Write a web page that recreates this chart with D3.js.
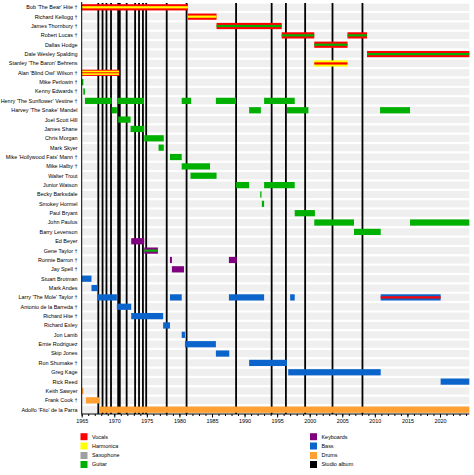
<!DOCTYPE html>
<html><head><meta charset="utf-8">
<script src="https://cdn.jsdelivr.net/npm/d3@7"></script>
<style>
html,body{margin:0;padding:0;background:#fff;}
svg{display:block;font-family:"Liberation Sans Narrow","Arial Narrow","Liberation Sans",Arial,sans-serif;}
</style></head>
<body><svg id="chart" width="474" height="475"></svg>
<script>
const members = [
"Bob 'The Bear' Hite †","Richard Kellogg †","James Thornbury †","Robert Lucas †","Dallas Hodge",
"Dale Wesley Spalding","Stanley 'The Baron' Behrens","Alan 'Blind Owl' Wilson †","Mike Perlowin †",
"Kenny Edwards †","Henry 'The Sunflower' Vestine †","Harvey 'The Snake' Mandel","Joel Scott Hill",
"James Shane","Chris Morgan","Mark Skyer","Mike 'Hollywood Fats' Mann †","Mike Halby †","Walter Trout",
"Junior Watson","Becky Barksdale","Smokey Hormel","Paul Bryant","John Paulus","Barry Levenson","Ed Beyer",
"Gene Taylor †","Ronnie Barron †","Jay Spell †","Stuart Brotman","Mark Andes","Larry 'The Mole' Taylor †",
"Antonio de la Barreda †","Richard Hite †","Richard Exley","Jon Lamb","Ernie Rodriguez","Skip Jones",
"Ron Shumake †","Greg Kage","Rick Reed","Keith Sawyer","Frank Cook †","Adolfo 'Fito' de la Parra"];

const instruments = ["Vocals","Harmonica","Saxophone","Guitar","Keyboards","Bass","Drums","Studio album"];
const instrumentColors = ["#ff0000","#ffff00","#a0a0a0","#00b000","#800080","#0a64cc","#ffa030","#000000"];

// [member, start, end, main instrument, stripe instrument or null, thin centre-line instrument or null]
const stints = [
["Bob 'The Bear' Hite †",1965.0,1981.3,"Vocals","Harmonica",null],
["Richard Kellogg †",1981.3,1985.7,"Vocals","Harmonica",null],
["James Thornbury †",1985.7,1995.7,"Vocals","Guitar",null],
["Robert Lucas †",1995.7,2000.7,"Vocals","Guitar",null],
["Robert Lucas †",2005.8,2008.8,"Vocals","Guitar",null],
["Dallas Hodge",2000.7,2005.8,"Vocals","Guitar",null],
["Dale Wesley Spalding",2008.8,2024.5,"Vocals","Guitar",null],
["Stanley 'The Baron' Behrens",2000.7,2005.8,"Harmonica","Vocals",null],
["Alan 'Blind Owl' Wilson †",1965.0,1970.75,"Vocals","Harmonica","Vocals"],
["Mike Perlowin †",1965.0,1965.25,"Guitar",null,null],
["Kenny Edwards †",1965.25,1965.5,"Guitar",null,null],
["Henry 'The Sunflower' Vestine †",1965.5,1969.6,"Guitar",null,null],
["Henry 'The Sunflower' Vestine †",1970.45,1974.55,"Guitar",null,null],
["Henry 'The Sunflower' Vestine †",1980.35,1981.8,"Guitar",null,null],
["Henry 'The Sunflower' Vestine †",1985.6,1988.7,"Guitar",null,null],
["Henry 'The Sunflower' Vestine †",1993.0,1997.7,"Guitar",null,null],
["Harvey 'The Snake' Mandel",1969.6,1970.4,"Guitar",null,null],
["Harvey 'The Snake' Mandel",1990.7,1992.5,"Guitar",null,null],
["Harvey 'The Snake' Mandel",1996.5,1999.8,"Guitar",null,null],
["Harvey 'The Snake' Mandel",2010.8,2015.4,"Guitar",null,null],
["Joel Scott Hill",1970.6,1972.5,"Guitar",null,null],
["James Shane",1972.5,1974.6,"Guitar",null,null],
["Chris Morgan",1974.6,1977.6,"Guitar",null,null],
["Mark Skyer",1976.8,1977.6,"Guitar",null,null],
["Mike 'Hollywood Fats' Mann †",1978.55,1980.35,"Guitar",null,null],
["Mike Halby †",1980.35,1984.7,"Guitar",null,null],
["Walter Trout",1981.7,1985.7,"Guitar",null,null],
["Junior Watson",1988.7,1990.7,"Guitar",null,null],
["Junior Watson",1993.0,1997.7,"Guitar",null,null],
["Becky Barksdale",1992.4,1992.6,"Guitar",null,null],
["Smokey Hormel",1992.65,1993.0,"Guitar",null,null],
["Paul Bryant",1997.7,2000.8,"Guitar",null,null],
["John Paulus",2000.7,2006.8,"Guitar",null,null],
["John Paulus",2015.4,2024.5,"Guitar",null,null],
["Barry Levenson",2006.8,2010.9,"Guitar",null,null],
["Ed Beyer",1972.6,1974.6,"Keyboards",null,null],
["Gene Taylor †",1974.6,1976.7,"Keyboards","Guitar",null],
["Ronnie Barron †",1978.55,1978.85,"Keyboards",null,null],
["Ronnie Barron †",1987.6,1988.8,"Keyboards",null,null],
["Jay Spell †",1978.85,1980.7,"Keyboards",null,null],
["Stuart Brotman",1965.0,1966.5,"Bass",null,null],
["Mark Andes",1966.5,1967.45,"Bass",null,null],
["Larry 'The Mole' Taylor †",1967.45,1970.4,"Bass",null,null],
["Larry 'The Mole' Taylor †",1978.55,1980.35,"Bass",null,null],
["Larry 'The Mole' Taylor †",1987.6,1993.0,"Bass",null,null],
["Larry 'The Mole' Taylor †",1997.0,1997.7,"Bass",null,null],
["Larry 'The Mole' Taylor †",2010.9,2020.1,"Bass","Vocals",null],
["Antonio de la Barreda †",1970.4,1972.6,"Bass",null,null],
["Richard Hite †",1972.6,1977.5,"Bass",null,null],
["Richard Exley",1977.5,1978.55,"Bass",null,null],
["Jon Lamb",1980.35,1980.85,"Bass",null,null],
["Ernie Rodriguez",1980.85,1985.6,"Bass",null,null],
["Skip Jones",1985.6,1987.65,"Bass",null,null],
["Ron Shumake †",1990.7,1996.5,"Bass",null,null],
["Greg Kage",1996.7,2010.9,"Bass",null,null],
["Rick Reed",2020.1,2024.5,"Bass",null,null],
["Keith Sawyer",1965.0,1965.25,"Drums",null,null],
["Frank Cook †",1965.66,1967.7,"Drums",null,null],
["Adolfo 'Fito' de la Parra",1967.7,2024.5,"Drums",null,null]
];

const albums = [1967.55,1968.2,1968.8,1969.5,1970.6,1970.85,1971.9,1973.2,1973.8,1974.4,1974.9,
1978.05,1981.1,1988.7,1994.16,1996.35,1999.3,2003.5,2008.1];

const tickYears = d3.range(1965, 2021, 5);
const minorYears = d3.range(1965, 2025, 1);
const startYear = 1965, endYear = 2024.5;

const svg = d3.select("#chart");
const x = d3.scaleLinear().domain([startYear, endYear]).range([81.7, 469.3]);
const y = d3.scalePoint().domain(members).range([7.3, 409.7]);
const color = d3.scaleOrdinal().domain(instruments).range(instrumentColors);

const bandH = 7.2, barH = 6.2, stripeH = 2.2;

svg.append("g").selectAll("rect").data(members).join("rect")
  .attr("x", x(startYear)).attr("width", x(endYear)-x(startYear))
  .attr("y", d => y(d)-bandH/2).attr("height", bandH)
  .attr("fill", "#efefef");

svg.append("g").selectAll("line").data(albums).join("line")
  .attr("x1", d => x(d)).attr("x2", d => x(d))
  .attr("y1", 3).attr("y2", 414)
  .attr("stroke", "#000").attr("stroke-width", 1.8);

const bars = svg.append("g");
bars.selectAll("rect.main").data(stints).join("rect").attr("class","main")
  .attr("x", d => x(d[1])).attr("width", d => Math.max(1, x(d[2])-x(d[1])))
  .attr("y", d => y(d[0])-barH/2).attr("height", barH)
  .attr("fill", d => color(d[3]));
// stripe: wider when a centre line is also drawn
bars.selectAll("rect.stripe").data(stints.filter(d => d[4])).join("rect").attr("class","stripe")
  .attr("x", d => x(d[1])).attr("width", d => x(d[2])-x(d[1]))
  .attr("y", d => y(d[0])-(d[5] ? 2.1 : stripeH/2)).attr("height", d => d[5] ? 4.2 : stripeH)
  .attr("fill", d => color(d[4]));
bars.selectAll("rect.centre").data(stints.filter(d => d[5])).join("rect").attr("class","centre")
  .attr("x", d => x(d[1])).attr("width", d => x(d[2])-x(d[1]))
  .attr("y", d => y(d[0])-0.5).attr("height", 1)
  .attr("fill", d => color(d[5]));

svg.append("line").attr("x1", x(startYear)).attr("x2", x(startYear))
  .attr("y1", 2).attr("y2", 414).attr("stroke", "#000").attr("stroke-width", 1);

const labels = svg.append("g").selectAll("text").data(members).join("text")
  .attr("x", 77.5).attr("y", d => y(d)).attr("dy", "0.35em")
  .attr("text-anchor", "end").attr("font-size", 6.6).attr("fill", "#000")
  .text(d => d);
let maxW = 0;
labels.each(function(){ maxW = Math.max(maxW, this.getComputedTextLength()); });
let fs = 6.6;
if (maxW > 77) { fs = 6.6 * 77 / maxW; labels.attr("font-size", fs); }

const axisY = 414;
const gx = svg.append("g").attr("transform", `translate(0,${axisY})`);
gx.call(d3.axisBottom(x).tickValues(minorYears).tickSize(2).tickFormat(""))
  .call(g => g.select(".domain").remove())
  .call(g => g.selectAll("line").attr("stroke", "#000"));
const gx2 = svg.append("g").attr("transform", `translate(0,${axisY})`);
gx2.call(d3.axisBottom(x).tickValues(tickYears).tickSize(3.5).tickPadding(2).tickFormat(d3.format("d")))
  .call(g => g.select(".domain").remove())
  .call(g => g.selectAll("line").attr("stroke", "#000"))
  .call(g => g.selectAll("text").attr("font-size", fs).attr("fill", "#000")
        .attr("font-family", null));
svg.append("line").attr("x1", x(startYear)).attr("x2", x(endYear))
  .attr("y1", axisY).attr("y2", axisY).attr("stroke", "#000").attr("stroke-width", 1);

const leftCol = instruments.slice(0,4), rightCol = instruments.slice(4);
const legendRows = [436.7, 446, 455.5, 464.5];
function legendCol(items, x0) {
  const g = svg.append("g");
  const it = g.selectAll("g").data(items).join("g")
    .attr("transform", (d,i) => `translate(${x0},${legendRows[i]})`);
  it.append("rect").attr("x", 0).attr("y", -3.5).attr("width", 7).attr("height", 7)
    .attr("fill", d => color(d));
  it.append("text").attr("x", 11.5).attr("y", 0).attr("dy", "0.35em")
    .attr("font-size", fs).attr("fill", "#000").text(d => d);
}
legendCol(leftCol, 80.5);
legendCol(rightCol, 310);
</script>
</body></html>
